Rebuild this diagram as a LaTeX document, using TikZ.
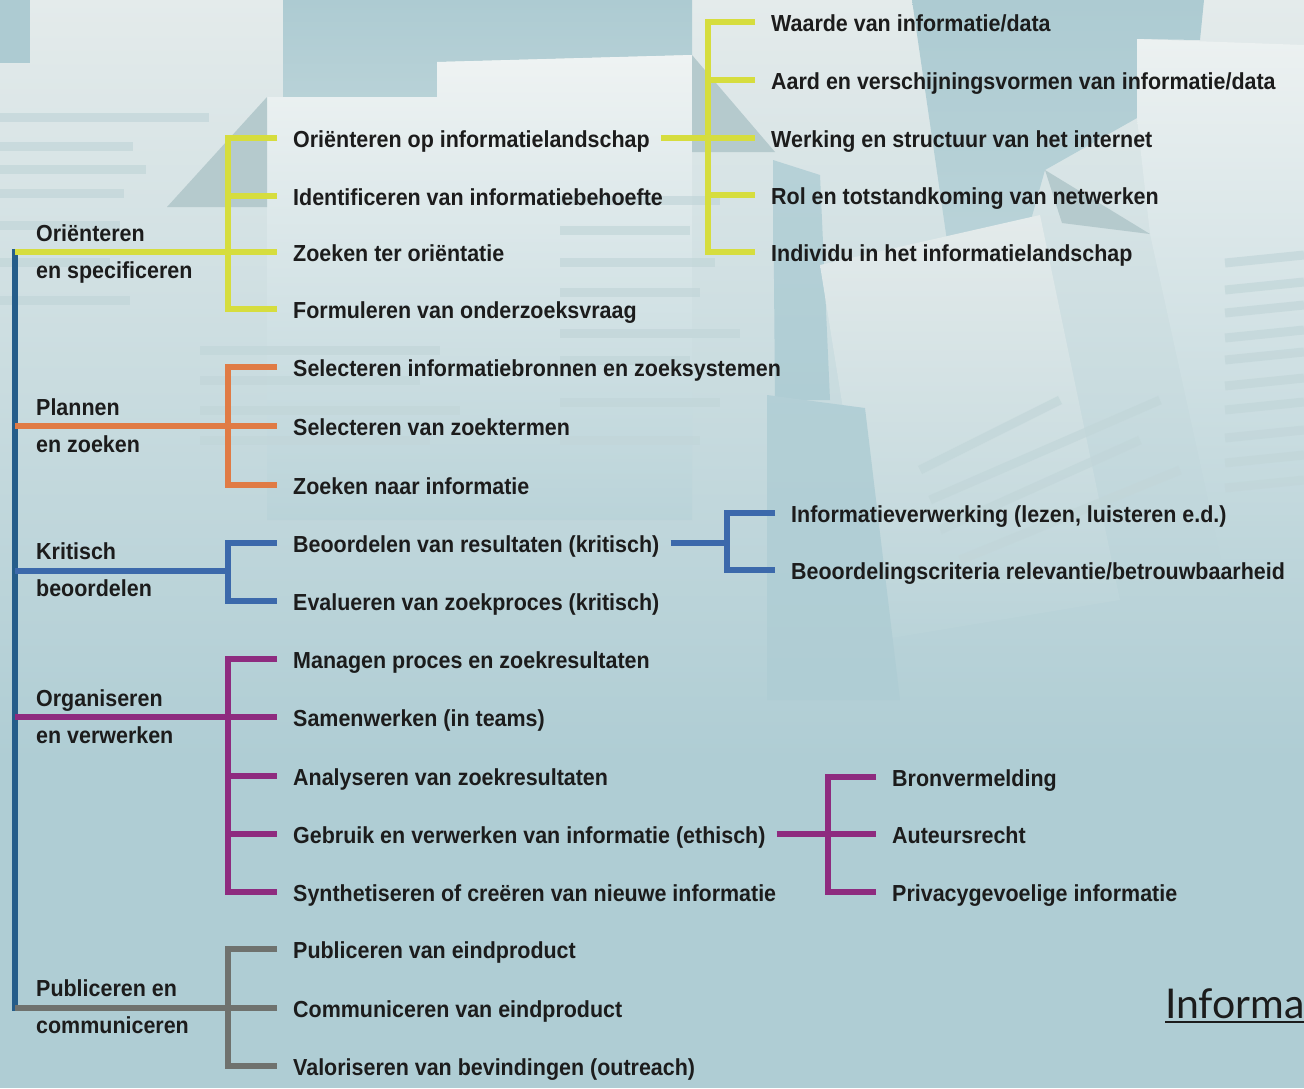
\documentclass[tikz,border=0pt]{standalone}
\usepackage{fontspec}
\newfontfamily\itemf{Liberation Sans}[FakeStretch=0.925]
\newfontfamily\latof{Lato}
\usetikzlibrary{calc}
\definecolor{bg}{HTML}{AFCDD4}
\definecolor{pagetop}{HTML}{E4EBEB}
\definecolor{pagemid}{HTML}{D3E2E4}
\definecolor{gapc}{HTML}{ADCBD2}
\definecolor{foldc}{HTML}{B5CACD}
\definecolor{barc}{HTML}{C2D6D9}
\definecolor{ylw}{HTML}{D6DD3E}
\definecolor{org}{HTML}{E07B45}
\definecolor{blu}{HTML}{3C69AB}
\definecolor{pur}{HTML}{8E2B7F}
\definecolor{gry}{HTML}{6F726E}
\definecolor{mainb}{HTML}{255D8A}
\definecolor{ink}{HTML}{1C1C1C}
\tikzset{
  br/.style={line width=6pt},
  item/.style={anchor=west, inner xsep=16pt, inner ysep=0pt, text height=24pt, text depth=5pt,
    text=ink, font={\itemf\bfseries\fontsize{23.2pt}{28pt}\selectfont}},
  lbl/.style={anchor=base west, align=left, inner sep=0pt, text=ink,
    font={\itemf\bfseries\fontsize{23.2pt}{37pt}\selectfont}},
  bar/.style={line width=9pt, barc, opacity=0.7},
}
\begin{document}
\begin{tikzpicture}[x=1pt,y=-1pt]
\useasboundingbox (0,0) rectangle (1304,1088);
% ---------- background scene ----------
\fill[bg] (0,0) rectangle (1304,1088);
\shade[top color=pagetop, bottom color=bg] (0,0) rectangle (1304,760);
% gaps between sheets (darker blue)
\fill[gapc] (0,0) rectangle (30,63);
\shade[top color=gapc, bottom color=gapc!70!pagemid] (283,0) -- (692,0) -- (692,55) -- (437,62) -- (437,97) -- (283,97) -- cycle;
\shade[top color=gapc, bottom color=bg!60!pagemid] (912,0) -- (1204,0) -- (1200,40) -- (1137,39) -- (1137,118) -- (1045,170) -- (1000,330) -- (960,330) -- cycle;
\shade[top color=bg!80!pagemid, bottom color=bg] (773,160) -- (820,175) -- (830,400) -- (775,400) -- cycle;
% sheets
\shade[top color=pagetop!60!white, bottom color=bg!70!pagemid] (267,97) -- (437,97) -- (437,62) -- (692,55) -- (692,520) -- (267,520) -- cycle;
\shade[top color=pagetop!70!white, bottom color=bg!70!pagemid] (1137,39) -- (1304,45) -- (1304,600) -- (1230,600) -- (1150,234) -- (1137,118) -- cycle;
\shade[top color=pagetop, bottom color=bg!70!pagemid] (820,265) -- (1040,215) -- (1120,600) -- (880,640) -- cycle;
% folds and uncovered wedges
\fill[foldc] (267,97) -- (167,207) -- (267,207) -- cycle;
\fill[foldc] (692,55) -- (775,152) -- (692,152) -- cycle;
\fill[foldc] (1045,170) -- (1150,234) -- (1062,223) -- cycle;
\shade[top color=bg!90!pagemid, bottom color=bg] (767,395) -- (865,408) -- (900,700) -- (767,700) -- cycle;
% faint text lines on the sheets
\foreach \yy/\xe in {117/209,146/133,169/146,193/124,225/120,262/110,300/130}
  \draw[bar] (0,\yy) -- (\xe,\yy);
\foreach \yy/\xe in {200/720,230/690,262/715,292/700,333/740,360/690,402/720,440/700}
  \draw[bar] (560,\yy) -- (\xe,\yy);
\foreach \yy in {255,282,305,330,352,378,402,430,455,480}
  \draw[bar] (1225,\yy+8) -- (1304,\yy);
\foreach \yy/\xe in {350/440,380/420,410/460,440/430}
  \draw[bar] (200,\yy) -- (\xe,\yy);
\draw[bar] (920,470) -- (1060,400);
\draw[bar] (930,500) -- (1160,400);
\draw[bar] (940,530) -- (1140,440);
\draw[bar] (960,560) -- (1180,470);
% ---------- tree ----------
\coordinate (top) at (15,249);
\coordinate (bot) at (15,1011);
\draw[mainb, br] (top) -- (bot);

% 1 Orienteren en specificeren
\node[lbl] (c1) at (36,278) {Oriënteren\\en specificeren};
\coordinate (r1) at (15,252);
\coordinate (j1) at (228,252);
\node[item] (a1) at (277,138) {Oriënteren op informatielandschap};
\node[item] (a2) at (277,196) {Identificeren van informatiebehoefte};
\node[item] (a3) at (277,252) {Zoeken ter oriëntatie};
\node[item] (a4) at (277,309) {Formuleren van onderzoeksvraag};
\draw[ylw, br] (r1) -- (j1);
\draw[ylw, br] (a1.west) -| (j1) |- (a4.west);
\draw[ylw, br] (j1 |- a2.west) -- (a2.west);
\draw[ylw, br] (j1) -- (a3.west);
% sub of a1
\coordinate (k1) at (708,138);
\node[item] (b1) at (755,22) {Waarde van informatie/data};
\node[item] (b2) at (755,80) {Aard en verschijningsvormen van informatie/data};
\node[item] (b3) at (755,138) {Werking en structuur van het internet};
\node[item] (b4) at (755,195) {Rol en totstandkoming van netwerken};
\node[item] (b5) at (755,252) {Individu in het informatielandschap};
\draw[ylw, br] ([xshift=-5pt]a1.east) -- (k1);
\draw[ylw, br] (b1.west) -| (k1) |- (b5.west);
\draw[ylw, br] (k1 |- b2.west) -- (b2.west);
\draw[ylw, br] (k1) -- (b3.west);
\draw[ylw, br] (k1 |- b4.west) -- (b4.west);

% 2 Plannen en zoeken
\node[lbl] (c2) at (36,452) {Plannen\\en zoeken};
\coordinate (r2) at (15,426);
\coordinate (j2) at (228,426);
\node[item] (p1) at (277,367) {Selecteren informatiebronnen en zoeksystemen};
\node[item] (p2) at (277,426) {Selecteren van zoektermen};
\node[item] (p3) at (277,485) {Zoeken naar informatie};
\draw[org, br] (r2) -- (j2);
\draw[org, br] (p1.west) -| (j2) |- (p3.west);
\draw[org, br] (j2) -- (p2.west);

% 3 Kritisch beoordelen
\node[lbl] (c3) at (36,596) {Kritisch\\beoordelen};
\coordinate (r3) at (15,571);
\coordinate (j3) at (228,571);
\node[item] (d1) at (277,543) {Beoordelen van resultaten (kritisch)};
\node[item] (d2) at (277,601) {Evalueren van zoekproces (kritisch)};
\draw[blu, br] (r3) -- (j3);
\draw[blu, br] (d1.west) -| (j3) |- (d2.west);
% sub of d1
\coordinate (k3) at (727,543);
\node[item] (e1) at (775,513) {Informatieverwerking (lezen, luisteren e.d.)};
\node[item] (e2) at (775,570) {Beoordelingscriteria relevantie/betrouwbaarheid};
\draw[blu, br] ([xshift=-5pt]d1.east) -- (k3);
\draw[blu, br] (e1.west) -| (k3) |- (e2.west);

% 4 Organiseren en verwerken
\node[lbl] (c4) at (36,743) {Organiseren\\en verwerken};
\coordinate (r4) at (15,717);
\coordinate (j4) at (228,717);
\node[item] (g1) at (277,659) {Managen proces en zoekresultaten};
\node[item] (g2) at (277,717) {Samenwerken (in teams)};
\node[item] (g3) at (277,776) {Analyseren van zoekresultaten};
\node[item] (g4) at (277,834) {Gebruik en verwerken van informatie (ethisch)};
\node[item] (g5) at (277,892) {Synthetiseren of creëren van nieuwe informatie};
\draw[pur, br] (r4) -- (j4);
\draw[pur, br] (g1.west) -| (j4) |- (g5.west);
\draw[pur, br] (j4) -- (g2.west);
\draw[pur, br] (j4 |- g3.west) -- (g3.west);
\draw[pur, br] (j4 |- g4.west) -- (g4.west);
% sub of g4
\coordinate (k4) at (828,834);
\node[item] (h1) at (876,777) {Bronvermelding};
\node[item] (h2) at (876,834) {Auteursrecht};
\node[item] (h3) at (876,892) {Privacygevoelige informatie};
\draw[pur, br] ([xshift=-5pt]g4.east) -- (k4);
\draw[pur, br] (h1.west) -| (k4) |- (h3.west);
\draw[pur, br] (k4) -- (h2.west);

% 5 Publiceren en communiceren
\node[lbl] (c5) at (36,1033) {Publiceren en\\communiceren};
\coordinate (r5) at (15,1008);
\coordinate (j5) at (228,1008);
\node[item] (q1) at (277,949) {Publiceren van eindproduct};
\node[item] (q2) at (277,1008) {Communiceren van eindproduct};
\node[item] (q3) at (277,1066) {Valoriseren van bevindingen (outreach)};
\draw[gry, br] (r5) -- (j5);
\draw[gry, br] (q1.west) -| (j5) |- (q3.west);
\draw[gry, br] (j5) -- (q2.west);

% cut-off title at the lower right
\node[anchor=base west, inner sep=0pt, text=ink, font={\latof\fontsize{41pt}{48pt}\selectfont}] (tt) at (1165,1018) {Informa};
\draw[ink, line width=2pt] ([yshift=-4pt]tt.base west) -- ([yshift=-4pt]tt.base east);
\end{tikzpicture}
\end{document}
